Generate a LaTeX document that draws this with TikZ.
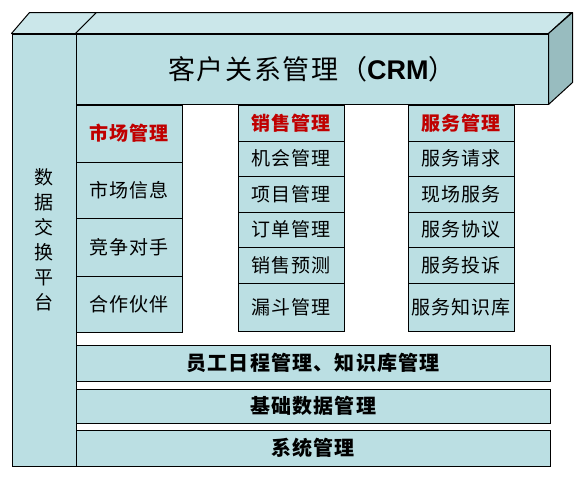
\documentclass[tikz,border=0pt]{standalone}
\usepackage{fontspec}
\setmainfont{Noto Sans CJK SC}[LetterSpace=6]
\newfontfamily\latinfont{Liberation Sans}
\definecolor{frontfill}{RGB}{187,223,227}
\definecolor{topfill}{RGB}{203,231,234}
\definecolor{sidefill}{RGB}{152,188,191}
\definecolor{headred}{RGB}{192,0,0}

\begin{document}
\begin{tikzpicture}[x=1pt, y=-1pt,
    panel/.style={rectangle, draw, fill=frontfill, line width=1pt, inner sep=0pt},
    face/.style={draw, line width=1pt, line join=round},
    item/.style={panel, minimum width=106pt, font=\fontsize{19}{19}\selectfont},
    head/.style={item, font=\fontsize{19}{19}\selectfont\bfseries, text=headred},
    bar/.style={panel, minimum width=474pt, font=\fontsize{20}{20}\selectfont\bfseries}
]
\useasboundingbox (0,0) rectangle (580,499);

% Data exchange platform (left pillar)
\node[panel, minimum width=64pt, minimum height=432pt] (plat) at (44,250) {};
\node[font=\fontsize{19}{25}\selectfont, align=center] (platText) at (44,240) {数\\据\\交\\换\\平\\台};

% CRM block
\node[panel, minimum width=472pt, minimum height=70pt] (crm) at (312,69)
    {\fontsize{27}{27}\selectfont 客户关系管理（{\latinfont\bfseries CRM}）};

% 3D faces
\draw[face, fill=topfill] (plat.north west) -- ++(18,-21) -- ++(67,0) -- (crm.north west) -- cycle;
\draw[face, fill=topfill] (crm.north west) -- ++(21,-21) -- ++(475,0) -- (crm.north east) -- cycle;
\draw[face, fill=sidefill] (crm.north east) -- ++(24,-21) -- ++(0,70) -- (crm.south east) -- cycle;

% Market column
\node[head, minimum height=57pt] (market) at (129,133.5) {市场管理};
\node[item, minimum height=56pt] (market1) at (129,190) {市场信息};
\node[item, minimum height=58pt] (market2) at (129,247) {竞争对手};
\node[item, minimum height=56pt] (market3) at (129,304) {合作伙伴};

% Sales column
\node[head, minimum height=36pt] (sales) at (291,123) {销售管理};
\foreach \yc/\h/\txt [count=\i] in {158.5/35/机会管理, 194/36/项目管理, 229.5/35/订单管理, 265/36/销售预测, 307/48/漏斗管理}
    \node[item, minimum height=\h pt] (sales\i) at (291,\yc) {\txt};

% Service column
\node[head, minimum height=36pt] (service) at (461,123) {服务管理};
\foreach \yc/\h/\txt [count=\i] in {158.5/35/服务请求, 194/36/现场服务, 229.5/35/服务协议, 265/36/服务投诉, 307/48/服务知识库}
    \node[item, minimum height=\h pt] (service\i) at (461,\yc) {\txt};

% Bottom bars
\node[bar, minimum height=36pt] (staff) at (313,363) {员工日程管理、知识库管理};
\node[bar, minimum height=34pt] (basedata) at (313,406) {基础数据管理};
\node[bar, minimum height=36pt] (system) at (313,448) {系统管理};

\end{tikzpicture}
\end{document}
